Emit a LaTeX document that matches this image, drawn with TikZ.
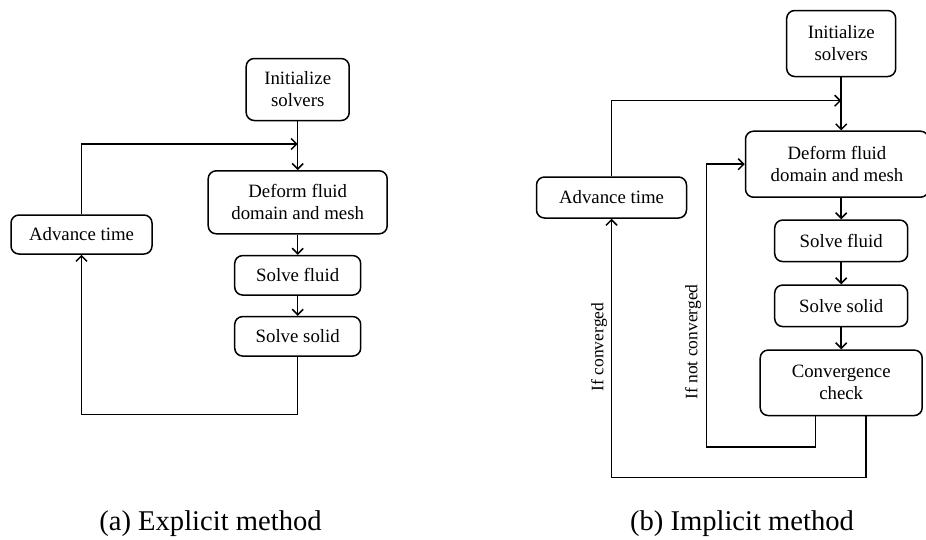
\documentclass[tikz,border=0pt]{standalone}
\usepackage{fontspec}
\setmainfont{Liberation Serif}
\usetikzlibrary{arrows.meta}
\begin{document}
\begin{tikzpicture}[x=1pt,y=-1pt,
  box/.style={draw,line width=1.5pt,rounded corners=8pt,align=center,inner sep=0pt,
    font=\fontsize{18.8}{22}\selectfont},
  conn/.style={line width=1.5pt},
  arr/.style={conn,-{Straight Barb[length=5.5pt,width=11pt,line width=1.5pt]}},
  lab/.style={font=\fontsize{17.5}{20}\selectfont,rotate=90,inner sep=0pt},
  captext/.style={font=\fontsize{28.6}{32}\selectfont,anchor=base,inner sep=0pt}]
\useasboundingbox (0,0) rectangle (926,539);
% (a) explicit
\node[box,minimum width=103pt,minimum height=62pt] (iniL) at (297.7,89.5) {Initialize\\solvers};
\node[box,minimum width=179pt,minimum height=63pt] (defL) at (297.7,202.3) {Deform fluid\\domain and mesh};
\node[box,minimum width=126pt,minimum height=39.5pt] (sfL) at (297.7,275.3) {Solve fluid};
\node[box,minimum width=126pt,minimum height=39.5pt] (ssL) at (297.7,336.3) {Solve solid};
\node[box,minimum width=141pt,minimum height=39pt] (advL) at (81.5,234.5) {Advance time};
\coordinate (jL) at (297.7,144);
\coordinate (bL) at (297.7,414.3);
\draw[arr] (iniL) -- (defL);
\draw[arr] (defL) -- (sfL);
\draw[arr] (sfL) -- (ssL);
\draw[arr] (ssL.south) -- (bL) -| (advL.south);
\draw[arr] (advL.north) |- (jL);
% (b) implicit
\node[box,minimum width=109pt,minimum height=66pt] (iniR) at (841.2,43.5) {Initialize\\solvers};
\node[box,minimum width=183pt,minimum height=66pt] (defR) at (837,164.2) {Deform fluid\\domain and mesh};
\node[box,minimum width=133pt,minimum height=41.5pt] (sfR) at (841.2,240.8) {Solve fluid};
\node[box,minimum width=133pt,minimum height=41.5pt] (ssR) at (841.2,305.8) {Solve solid};
\node[box,minimum width=162pt,minimum height=65.5pt] (ccR) at (841.2,382.8) {Convergence\\check};
\node[box,minimum width=150pt,minimum height=41pt] (advR) at (611.5,197.5) {Advance time};
\coordinate (jR) at (841.2,100.7);
\coordinate (c1) at (815.7,415.6);
\coordinate (c1b) at (815.7,446.8);
\coordinate (c1l) at (706.7,446.8);
\coordinate (c2) at (866,415.6);
\coordinate (c2b) at (866,477.3);
\draw[arr] (iniR.south) -- (iniR.south |- defR.north);
\draw[arr] (defR.south -| sfR.north) -- (sfR.north);
\draw[arr] (sfR) -- (ssR);
\draw[arr] (ssR) -- (ccR);
\draw[arr] (advR.north) |- (jR);
\draw[arr] (c1) -- (c1b) -- (c1l) |- (defR.west);
\draw[arr] (c2) -- (c2b) -| (advR.south);
\node[lab] (l1) at (599,347) {If converged};
\node[lab] (l2) at (693,342) {If not converged};
% captions
\node[captext] (ca) at (210.5,530.5) {(a) Explicit method};
\node[captext] (cb) at (742,530.5) {(b) Implicit method};
\end{tikzpicture}
\end{document}
